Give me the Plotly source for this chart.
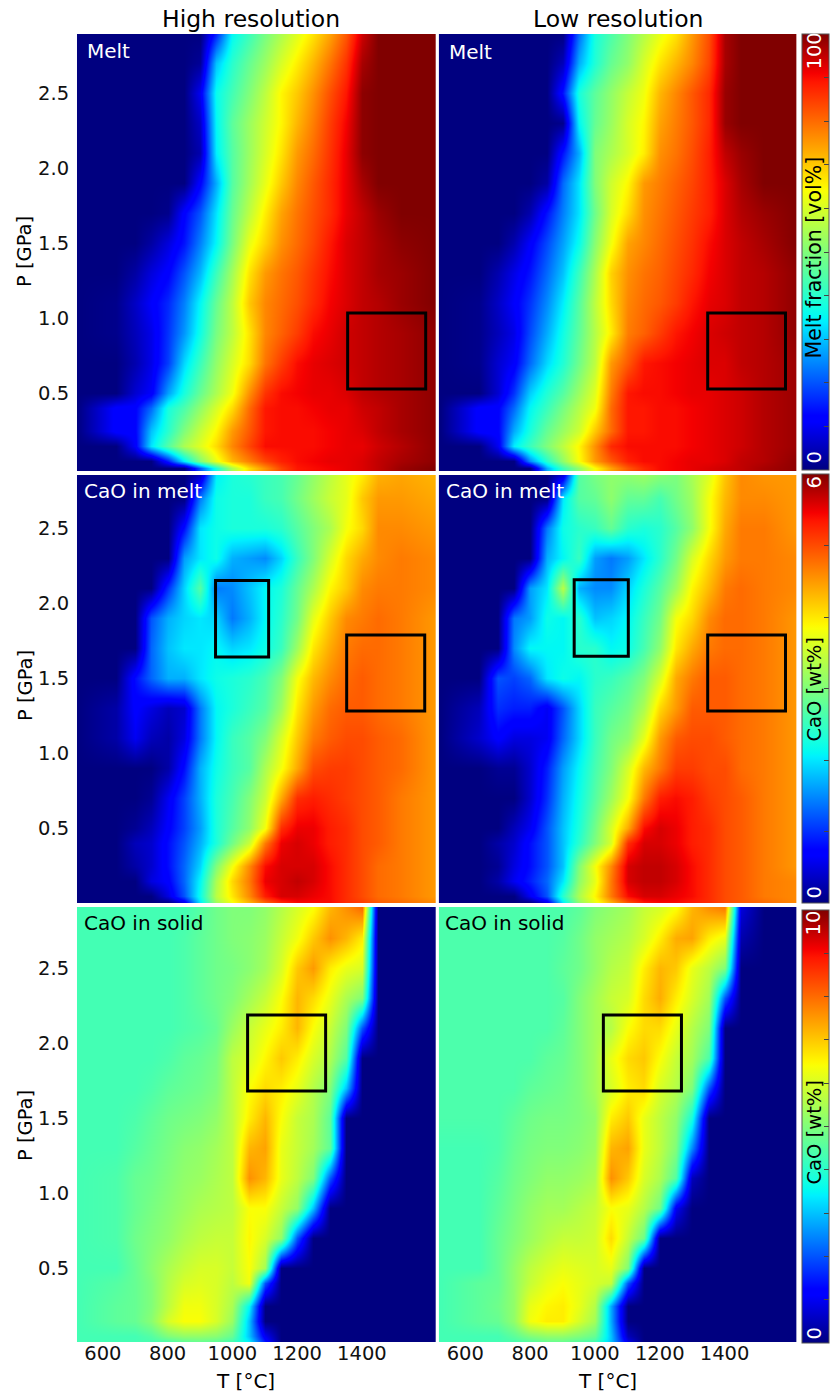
import plotly.graph_objects as go

W, H = 830, 1393
T_GRID = [520, 640, 700, 750, 800, 850, 900, 950, 1000, 1050, 1100, 1150, 1200, 1250, 1300, 1350, 1400, 1450, 1520, 1630]
P_GRID = [2.9, 2.7, 2.5, 2.3, 2.1, 1.9, 1.7, 1.5, 1.3, 1.1, 0.9, 0.7, 0.5, 0.4, 0.25, 0.15, 0.05, 0.0]

MELT_HI = [
 [0,0,0,0,0,0,0,15,35,42,49,55,61,67,74,82,94,100,100,100],
 [0,0,0,0,0,0,2,30,40,47,53,60,66,72,79,86,97,100,100,100],
 [0,0,0,0,0,0,10,36,43,50,57,65,70,76,83,89,99,100,100,100],
 [0,0,0,0,0,0,6,35,46,53,59,65,72,78,85,91,99,100,100,100],
 [0,0,0,0,0,0,4,34,45,53,60,67,75,80,86,92,99,100,100,100],
 [0,0,0,0,0,0,12,28,45,54,62,70,77,82,87,92,97,100,100,100],
 [0,0,0,0,1,12,20,33,47,57,66,74,79,83,87,92,95,98,100,100],
 [0,0,0,3,8,14,24,35,49,62,69,76,80,84,89,93,95,97,99,100],
 [0,0,3,8,12,20,29,42,54,67,75,79,82,86,90,93,95,97,98,100],
 [0,1,6,11,16,24,35,47,57,70,77,80,83,87,91,93,95,96,98,100],
 [0,1,5,9,17,26,37,49,57,67,77,81,85,90,92,94,95,96,97,99],
 [0,0,4,9,18,32,42,52,60,68,79,85,90,92,93,94,95,96,97,99],
 [0,0,7,11,27,38,47,55,63,76,86,90,91,92,92,93,95,96,97,99],
 [0,12,12,22,38,44,52,60,68,80,89,90,90,91,92,92,94,95,97,99],
 [0,12,12,30,40,50,58,65,75,82,89,90,90,90,91,92,93,95,97,99],
 [0,0,11,33,45,55,61,68,77,84,90,90,90,90,91,92,92,94,96,99],
 [0,0,0,0,15,34,50,62,72,78,84,88,90,91,92,92,93,95,97,99],
 [0,0,0,0,0,0,20,38,55,68,76,84,89,90,91,92,93,95,98,100],
]
MELT_LO = [
 [0,0,0,0,0,0,0,22,38,44,50,56,62,67,75,83,97,100,100,100],
 [0,0,0,0,0,0,5,28,39,47,52,60,67,72,77,84,97,100,100,100],
 [0,0,0,0,0,0,14,38,46,52,58,63,72,77,82,87,98,100,100,100],
 [0,0,0,0,0,0,1,35,47,53,60,65,74,78,82,87,98,100,100,100],
 [0,0,0,0,0,0,14,28,50,55,60,66,76,79,83,88,95,98,100,100],
 [0,0,0,0,0,3,22,33,50,59,65,75,78,81,84,88,93,97,100,100],
 [0,0,0,0,4,14,24,33,48,60,68,76,79,82,85,88,93,96,98,100],
 [0,0,0,4,11,19,27,36,51,63,74,77,80,83,86,90,93,95,97,100],
 [0,0,4,9,14,22,30,42,55,69,76,79,81,84,87,91,93,95,96,99],
 [0,1,6,11,17,25,34,45,57,68,77,80,82,85,89,92,93,95,96,99],
 [0,1,5,9,19,28,37,46,56,66,78,81,85,89,91,93,94,95,96,99],
 [0,1,7,11,22,32,39,48,57,75,82,89,90,91,92,93,93,95,96,98],
 [0,0,7,17,31,39,45,53,61,78,89,90,90,91,92,92,93,94,96,98],
 [0,12,12,22,35,42,49,56,63,80,89,89,90,90,91,92,93,94,96,98],
 [0,12,12,28,38,47,53,59,70,80,89,89,90,90,91,92,93,94,96,98],
 [0,0,10,34,42,50,57,65,76,87,90,90,90,90,91,92,93,94,96,98],
 [0,0,0,0,25,40,52,64,75,82,88,90,90,91,92,92,93,95,96,99],
 [0,0,0,0,0,28,42,52,64,74,82,87,90,91,92,93,94,95,97,99],
]
# CaO in melt, tenths of wt%
CAO_MELT_HI = [
 [0,0,0,0,0,0,0,20,23,24,25,26,28,31,34,37,39,43,44,43],
 [0,0,0,0,0,0,14,22,23,23,25,26,29,32,35,37,42,45,45,44],
 [0,0,0,0,0,8,20,22,23,23,23,24,27,30,33,38,41,46,46,45],
 [0,0,0,0,0,16,20,22,17,16,15,19,25,30,36,41,44,46,47,46],
 [0,0,0,0,10,19,27,14,15,18,21,23,28,33,39,42,46,47,47,46],
 [0,0,0,12,17,19,20,19,14,17,21,24,29,37,42,46,47,48,47,45],
 [0,0,0,13,18,20,20,21,19,20,22,25,32,40,44,47,48,48,47,45],
 [0,0,8,13,17,17,20,22,23,24,26,30,38,43,46,48,49,48,47,45],
 [0,2,7,5,3,4,14,21,23,25,27,32,40,45,48,49,49,48,47,45],
 [0,2,6,3,2,5,14,21,25,27,30,36,42,47,49,50,50,49,48,45],
 [0,0,0,0,2,8,17,22,25,27,33,38,44,50,51,51,50,49,48,45],
 [0,0,0,1,6,11,17,23,26,30,35,44,52,53,52,51,50,49,47,45],
 [0,0,1,3,7,11,16,23,27,31,38,52,55,55,53,52,50,49,47,45],
 [0,0,3,4,8,12,17,23,29,35,47,55,56,55,53,52,50,49,47,45],
 [0,0,2,4,8,13,19,30,38,46,54,56,56,56,54,52,50,48,47,45],
 [0,0,0,5,7,13,21,33,41,47,55,56,57,56,54,52,50,48,47,45],
 [0,0,0,0,5,12,22,34,40,46,53,56,56,55,54,52,50,48,47,45],
 [0,0,0,0,0,5,20,32,38,43,48,52,54,54,54,52,51,49,48,46],
]
CAO_MELT_LO = [
 [0,0,0,0,0,0,0,27,30,31,32,33,32,30,33,36,42,46,45,45],
 [0,0,0,0,0,0,20,27,28,31,28,28,26,29,32,38,43,46,46,45],
 [0,0,0,0,0,14,22,24,25,28,24,23,24,27,31,38,44,47,47,45],
 [0,0,0,0,0,17,21,25,16,14,16,20,24,29,36,41,45,47,47,46],
 [0,0,0,0,16,20,34,17,15,15,19,23,27,32,39,43,47,48,47,46],
 [0,0,0,14,16,22,21,24,18,19,21,25,29,38,41,46,48,48,47,45],
 [0,0,0,15,21,21,21,24,24,21,22,26,31,40,44,47,48,48,47,45],
 [0,0,12,11,13,20,22,21,24,25,27,30,36,44,47,49,49,48,47,45],
 [0,3,10,9,9,6,12,19,25,27,29,33,41,45,49,49,49,48,47,45],
 [0,4,7,5,5,6,13,19,25,29,31,37,45,49,50,50,49,48,47,45],
 [0,0,1,1,4,9,16,21,26,30,36,43,47,51,51,50,50,48,47,45],
 [0,0,0,0,4,10,17,22,27,32,38,47,53,54,53,51,50,49,47,45],
 [0,0,0,3,6,12,18,23,29,36,44,54,56,55,53,52,50,49,47,45],
 [0,0,2,4,8,12,18,24,30,36,52,56,56,55,53,52,50,49,47,45],
 [0,0,1,5,8,12,18,30,38,46,56,57,57,56,54,52,50,49,47,45],
 [0,0,2,6,9,13,20,31,37,47,56,57,57,56,54,52,50,49,47,46],
 [0,0,0,0,6,12,24,33,39,47,54,56,56,55,54,52,50,49,47,46],
 [0,0,0,0,0,5,20,31,37,43,49,53,54,54,53,52,50,49,48,46],
]
# CaO in solid, tenths of wt%
CAO_SOLID_HI = [
 [43,43,43,43,43,43,45,48,50,50,52,56,60,64,72,76,80,0,0,0],
 [43,43,43,43,43,44,46,48,50,51,53,58,63,70,76,72,66,0,0,0],
 [43,43,43,43,43,44,46,48,49,51,54,60,70,75,66,62,60,0,0,0],
 [43,43,43,43,43,44,46,48,50,54,58,64,72,68,62,55,50,0,0,0],
 [43,43,43,43,43,44,45,47,53,58,62,66,72,64,58,50,20,0,0,0],
 [43,43,43,43,44,46,47,49,57,60,65,70,66,60,55,45,0,0,0,0],
 [43,43,43,44,46,47,48,50,57,64,68,66,62,56,50,30,0,0,0,0],
 [43,43,44,46,48,49,50,52,57,66,72,64,58,55,46,0,0,0,0,0],
 [43,43,45,47,49,51,52,54,57,72,74,62,58,54,46,0,0,0,0,0],
 [43,44,47,48,50,52,53,55,57,76,72,62,57,50,20,0,0,0,0,0],
 [43,44,47,49,51,53,55,56,57,64,64,58,52,30,0,0,0,0,0,0],
 [43,44,48,50,52,55,57,58,58,65,60,52,20,0,0,0,0,0,0,0],
 [43,43,47,51,55,58,60,60,58,64,54,0,0,0,0,0,0,0,0,0],
 [43,45,47,50,56,60,61,60,57,63,20,0,0,0,0,0,0,0,0,0],
 [43,46,47,50,57,63,63,60,55,35,0,0,0,0,0,0,0,0,0,0],
 [43,46,47,51,60,64,64,60,53,30,0,0,0,0,0,0,0,0,0,0],
 [43,43,43,45,50,52,52,51,47,30,10,0,0,0,0,0,0,0,0,0],
 [43,43,43,43,43,45,46,45,42,35,15,0,0,0,0,0,0,0,0,0],
]
CAO_SOLID_LO = [
 [44,44,44,44,44,44,44,46,50,52,54,58,60,64,72,76,78,8,0,0],
 [44,44,44,44,44,44,45,48,52,54,56,60,66,73,74,66,62,4,0,0],
 [44,44,44,44,44,44,46,48,52,56,58,66,72,70,62,57,50,0,0,0],
 [44,44,44,44,44,44,45,50,54,58,60,68,73,66,60,54,20,0,0,0],
 [44,44,44,44,44,44,46,50,54,56,64,68,68,62,56,50,0,0,0,0],
 [44,44,44,44,44,46,47,50,54,62,68,70,64,58,54,44,0,0,0,0],
 [44,44,44,44,46,47,48,50,54,60,66,68,60,56,50,20,0,0,0,0],
 [44,44,44,46,48,49,49,50,52,66,70,62,57,52,38,0,0,0,0,0],
 [43,43,44,47,49,50,50,51,53,72,74,62,57,50,25,0,0,0,0,0],
 [43,43,45,48,50,52,52,53,55,76,70,60,55,45,5,0,0,0,0,0],
 [43,43,46,49,52,54,54,56,58,64,62,56,48,10,0,0,0,0,0,0],
 [43,43,47,50,53,56,58,58,59,68,58,48,0,0,0,0,0,0,0,0],
 [43,43,47,52,57,60,62,61,60,62,50,0,0,0,0,0,0,0,0,0],
 [43,46,47,52,58,62,64,62,60,58,20,0,0,0,0,0,0,0,0,0],
 [43,46,48,52,62,65,66,62,56,28,0,0,0,0,0,0,0,0,0,0],
 [43,46,47,52,63,66,66,60,54,28,0,0,0,0,0,0,0,0,0,0],
 [43,43,43,46,50,52,52,50,47,30,5,0,0,0,0,0,0,0,0,0],
 [43,43,43,43,44,46,46,44,42,30,10,0,0,0,0,0,0,0,0,0],
]

# Black boxes: (T0, T1, P0, P1)
BOXES = {
 (0, 0): [(1356, 1597, 0.527, 1.033)],
 (0, 1): [(1348, 1588, 0.527, 1.033)],
 (1, 0): [(948, 1112, 1.64, 2.149), (1353, 1594, 1.28, 1.787)],
 (1, 1): [(936, 1103, 1.645, 2.155), (1348, 1588, 1.28, 1.787)],
 (2, 0): [(1047, 1288, 1.68, 2.187)],
 (2, 1): [(1026, 1267, 1.68, 2.187)],
}

COL_TITLES = ["High resolution", "Low resolution"]
ROW_LABELS = ["Melt", "CaO in melt", "CaO in solid"]
ROW_LABEL_COLORS = ["white", "white", "black"]
CBAR_TITLES = ["Melt fraction [vol%]", "CaO [wt%]", "CaO [wt%]"]
CBAR_TITLE_SIZES = [20.5, 19.5, 19.5]
CBAR_MAX = [100, 6, 10]
CBAR_MAX_LABELS = ["100", "6", "10"]
CBAR_TICKS = [[10, 20, 30, 40, 50, 60, 70, 80, 90], [1, 2, 3, 4, 5], [1, 2, 3, 4, 5, 6, 7, 8, 9]]
T_TICKS = [600, 800, 1000, 1200, 1400]
P_TICKS = [0.5, 1.0, 1.5, 2.0, 2.5]

JET = [[0, "rgb(0,0,128)"], [0.11, "rgb(0,0,255)"], [0.125, "rgb(0,0,255)"], [0.34, "rgb(0,239,255)"],
       [0.35, "rgb(0,249,244)"], [0.375, "rgb(19,255,226)"], [0.64, "rgb(250,255,5)"],
       [0.65, "rgb(255,247,0)"], [0.66, "rgb(255,238,0)"], [0.89, "rgb(255,22,0)"],
       [0.91, "rgb(245,0,0)"], [1, "rgb(128,0,0)"]]

# Pixel layout
COL_PX = [(77, 436), (439, 797)]
ROW_PX = [(34, 471), (475, 903), (907, 1342)]
CBAR_PX = [(34, 470), (474, 903), (910, 1343)]
CBAR_X = (802, 829)
T_RANGE = [(520, 1628), (518, 1622)]
P_RANGE = [(-0.02, 2.893), (0.0, 2.853), (0.007, 2.907)]

DATA = [[MELT_HI, MELT_LO],
        [[[v / 10 for v in r] for r in CAO_MELT_HI], [[v / 10 for v in r] for r in CAO_MELT_LO]],
        [[[v / 10 for v in r] for r in CAO_SOLID_HI], [[v / 10 for v in r] for r in CAO_SOLID_LO]]]

FONT = "DejaVu Sans"
FS = 19.5
PLOT_W = 802  # plot area left once plotly reserves room for the colour bars
fx = lambda px: px / PLOT_W
fy = lambda px: 1 - px / H

fig = go.Figure()
layout = {}
annots = []
shapes = []

def note(x, y, text, color="black", size=FS, angle=0, xanchor="center"):
    annots.append(dict(x=fx(x), y=fy(y), xref="paper", yref="paper", text=text, showarrow=False,
                       textangle=angle, xanchor=xanchor, yanchor="middle",
                       font=dict(family=FONT, size=size, color=color)))

for r in range(3):
    for c in range(2):
        idx = r * 2 + c + 1
        sfx = "" if idx == 1 else str(idx)
        trace = dict(z=DATA[r][c], x=T_GRID, y=P_GRID, colorscale=JET, zmin=0, zmax=CBAR_MAX[r],
                     zsmooth="best", xaxis=f"x{sfx}", yaxis=f"y{sfx}", hoverinfo="skip")
        if c == 1:
            trace.update(showscale=True, colorbar=dict(
                x=CBAR_X[0] / W, xanchor="left", xref="container",
                thickness=CBAR_X[1] - CBAR_X[0], thicknessmode="pixels",
                y=fy(CBAR_PX[r][1]), yanchor="bottom", yref="container",
                len=(CBAR_PX[r][1] - CBAR_PX[r][0]) / H, lenmode="fraction",
                xpad=0, ypad=0, outlinecolor="#555555", outlinewidth=1, borderwidth=0,
                ticks="inside", ticklen=5, tickwidth=1, tickcolor="#444444",
                tickmode="array", tickvals=CBAR_TICKS[r], showticklabels=False))
        else:
            trace.update(showscale=False)
        fig.add_trace(go.Heatmap(**trace))
        layout[f"xaxis{sfx}"] = dict(domain=[fx(COL_PX[c][0]), fx(COL_PX[c][1])], range=list(T_RANGE[c]),
                                     anchor=f"y{sfx}", tickvals=T_TICKS, showticklabels=(r == 2),
                                     ticks="", ticklabelstandoff=-3,
                                     tickfont=dict(family=FONT, size=FS, color="#111111"),
                                     showgrid=False, zeroline=False, showline=False)
        layout[f"yaxis{sfx}"] = dict(domain=[fy(ROW_PX[r][1]), fy(ROW_PX[r][0])], range=list(P_RANGE[r]),
                                     anchor=f"x{sfx}", tickvals=P_TICKS, tickformat=".1f",
                                     showticklabels=(c == 0), ticks="outside" if c == 0 else "", ticklen=3,
                                     tickcolor="rgba(0,0,0,0)",
                                     tickfont=dict(family=FONT, size=FS, color="#111111"),
                                     showgrid=False, zeroline=False, showline=False)
        for (t0, t1, p0, p1) in BOXES[(r, c)]:
            shapes.append(dict(type="rect", xref=f"x{sfx}", yref=f"y{sfx}", x0=t0, x1=t1, y0=p0, y1=p1,
                               line=dict(color="black", width=3)))

note(251, 19, COL_TITLES[0], size=23.5)
note(618, 19, COL_TITLES[1], size=23.5)
note(246, 1381, "T [°C]", size=20)
note(608, 1381, "T [°C]", size=20)
for yc in (251, 685, 1125):
    note(25, yc, "P [GPa]", angle=-90)
label_pos = [[(85, 51), (447, 52)], [(82, 491), (444, 491)], [(82, 923), (443, 923)]]
for r in range(3):
    for c in range(2):
        note(label_pos[r][c][0], label_pos[r][c][1], ROW_LABELS[r], color=ROW_LABEL_COLORS[r], xanchor="left", size=20)
note(815, 257, CBAR_TITLES[0], angle=-90, size=CBAR_TITLE_SIZES[0])
note(815, 689, CBAR_TITLES[1], angle=-90, size=CBAR_TITLE_SIZES[1])
note(815, 1132, CBAR_TITLES[2], angle=-90, size=CBAR_TITLE_SIZES[2])
for y_top, y_zero, lab in ((51, 457, CBAR_MAX_LABELS[0]), (482, 892, CBAR_MAX_LABELS[1]), (923, 1333, CBAR_MAX_LABELS[2])):
    note(815, y_top, lab, color="white", angle=-90)
    note(815, y_zero, "0", color="white", angle=-90)

fig.update_layout(width=W, height=H, margin=dict(l=0, r=0, t=0, b=0), paper_bgcolor="white",
                  plot_bgcolor="white", autosize=False, annotations=annots, shapes=shapes,
                  font=dict(family=FONT), **layout)
fig.write_html("out.html", config={"displayModeBar": False, "responsive": False},
               post_script="document.body.style.margin='0';document.documentElement.style.overflow='hidden';")
